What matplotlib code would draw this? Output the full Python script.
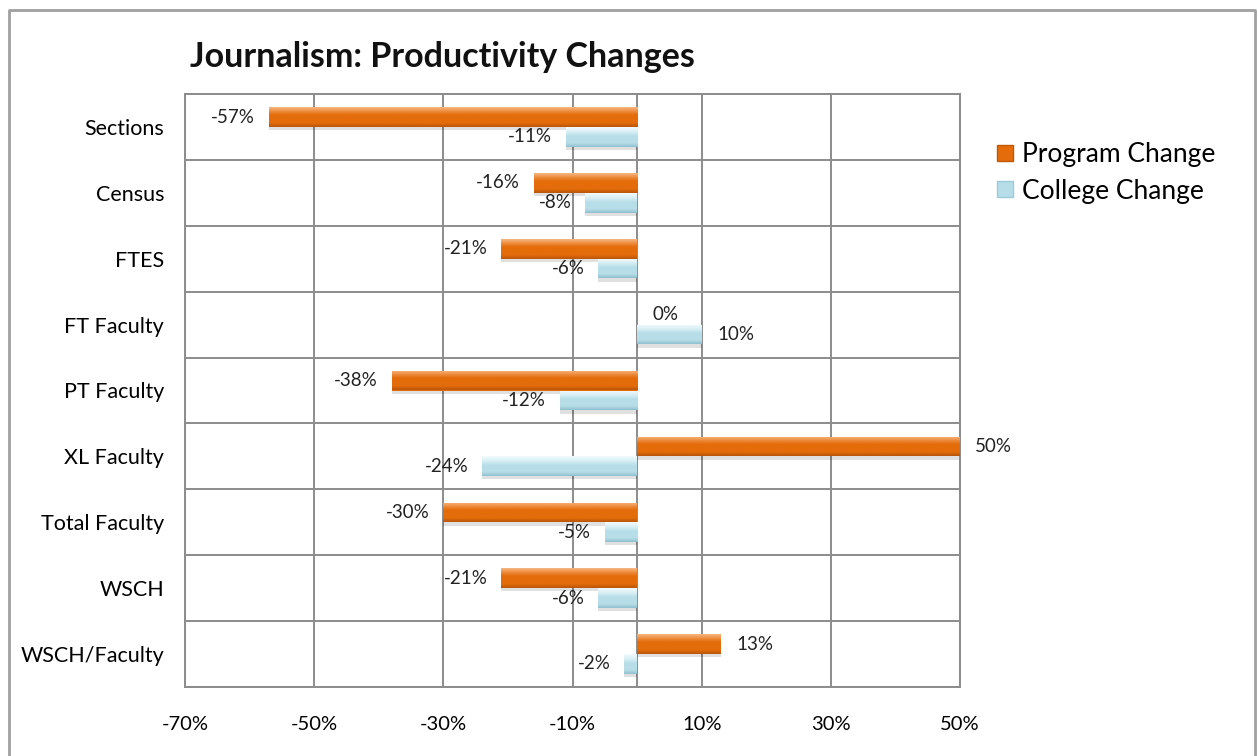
import numpy as np
import matplotlib
matplotlib.use("Agg")
import matplotlib.pyplot as plt
from matplotlib.colors import LinearSegmentedColormap
from matplotlib.lines import Line2D

plt.rcParams['font.family'] = ['Lato', 'DejaVu Sans']

# Data
categories = ["Sections", "Census", "FTES", "FT Faculty", "PT Faculty",
              "XL Faculty", "Total Faculty", "WSCH", "WSCH/Faculty"]
program_change = [-57, -16, -21, 0, -38, 50, -30, -21, 13]
college_change = [-11, -8, -6, 10, -12, -24, -5, -6, -2]
xticks = [-70, -50, -30, -10, 10, 30, 50]

orange = "#E46C0A"
blue = "#B7DEE8"
orange_map = LinearSegmentedColormap.from_list(
    "og", [(0, "#F7B783"), (0.22, "#EC8A3A"), (0.4, orange), (0.8, orange), (1, "#B9560A")])
blue_map = LinearSegmentedColormap.from_list(
    "bl", [(0, "#F4FBFD"), (0.25, "#D6EEF4"), (0.45, blue), (0.8, blue), (1, "#8FC0CF")])
grad = np.linspace(0, 1, 64).reshape(-1, 1)


def shade(ax, bars, cmap):
    # bevel-like vertical gradient clipped to each bar
    for b in bars:
        x0, y0 = b.get_x(), b.get_y()
        w, h = b.get_width(), b.get_height()
        if w == 0:
            continue
        # soft shadow under the bar
        ax.barh(y0 + h / 2 + 0.05, w, height=h, left=x0, color="#000000",
                alpha=0.12, zorder=2.5, linewidth=0)
        im = ax.imshow(grad, cmap=cmap, aspect="auto", origin="upper",
                       extent=(x0, x0 + w, y0 + h, y0), zorder=3.5,
                       interpolation="bilinear")
        im.set_clip_path(b)


fig = plt.figure(figsize=(12.58, 7.56), dpi=100)
ax = fig.add_axes([185 / 1258, 1 - 687 / 756, 775 / 1258, 593 / 756])

y = np.arange(len(categories))
h = 0.3
pb = ax.barh(y - h / 2, program_change, height=h, color=orange, zorder=3, linewidth=0)
cb = ax.barh(y + h / 2, college_change, height=h, color=blue, zorder=3, linewidth=0)
shade(ax, pb, orange_map)
shade(ax, cb, blue_map)

# value labels
for bars, vals in ((pb, program_change), (cb, college_change)):
    for b, v in zip(bars, vals):
        yc = b.get_y() + b.get_height() / 2
        off = -10 if v < 0 else 11
        ax.annotate(f"{v}%", (v, yc), xytext=(off, 0), textcoords="offset points",
                    ha="right" if v < 0 else "left", va="center",
                    fontsize=13.5, color="#222222", zorder=5)

ax.set_xlim(-70, 50)
ax.set_ylim(len(categories) - 0.5, -0.5)
ax.set_xticks(xticks)
ax.set_xticklabels([f"{t}%" for t in xticks], fontsize=14.5)
ax.set_yticks(y)
ax.set_yticklabels(categories, fontsize=15.5)
ax.set_yticks(np.arange(len(categories) + 1) - 0.5, minor=True)
ax.tick_params(axis="both", which="both", length=0)
ax.tick_params(axis="x", pad=21)
ax.tick_params(axis="y", pad=15)

gc = "#8C8C8C"
ax.grid(True, axis="x", which="major", color=gc, linewidth=1.4, zorder=1)
ax.grid(True, axis="y", which="minor", color=gc, linewidth=1.4, zorder=1)
ax.axvline(0, color=gc, linewidth=1.4, zorder=1)
ax.set_axisbelow(True)
for s in ax.spines.values():
    s.set_color(gc)
    s.set_linewidth(1.4)

fig.text(190 / 1258, 1 - 57 / 756, "Journalism: Productivity Changes",
         fontsize=24.5, fontweight="bold", ha="left", va="center", color="#111111")

handles = [
    Line2D([], [], marker="s", linestyle="none", markersize=12,
           markerfacecolor=orange, markeredgecolor="#C0580A"),
    Line2D([], [], marker="s", linestyle="none", markersize=12,
           markerfacecolor=blue, markeredgecolor="#9CCAD8"),
]
fig.legend(handles, ["Program Change", "College Change"], loc="upper left",
           bbox_to_anchor=(972 / 1258, 1 - 118 / 756), frameon=False,
           fontsize=19, handlelength=0.7, handletextpad=0.3, labelspacing=0.45)

# outer chart frame
fc = "#A0A0A0"
fig.add_artist(Line2D([9 / 1258, 9 / 1258, 1255 / 1258, 1255 / 1258],
                      [-0.02, 1 - 10 / 756, 1 - 10 / 756, -0.02],
                      transform=fig.transFigure, color=fc, linewidth=2))

fig.savefig("out.png", dpi=100)
